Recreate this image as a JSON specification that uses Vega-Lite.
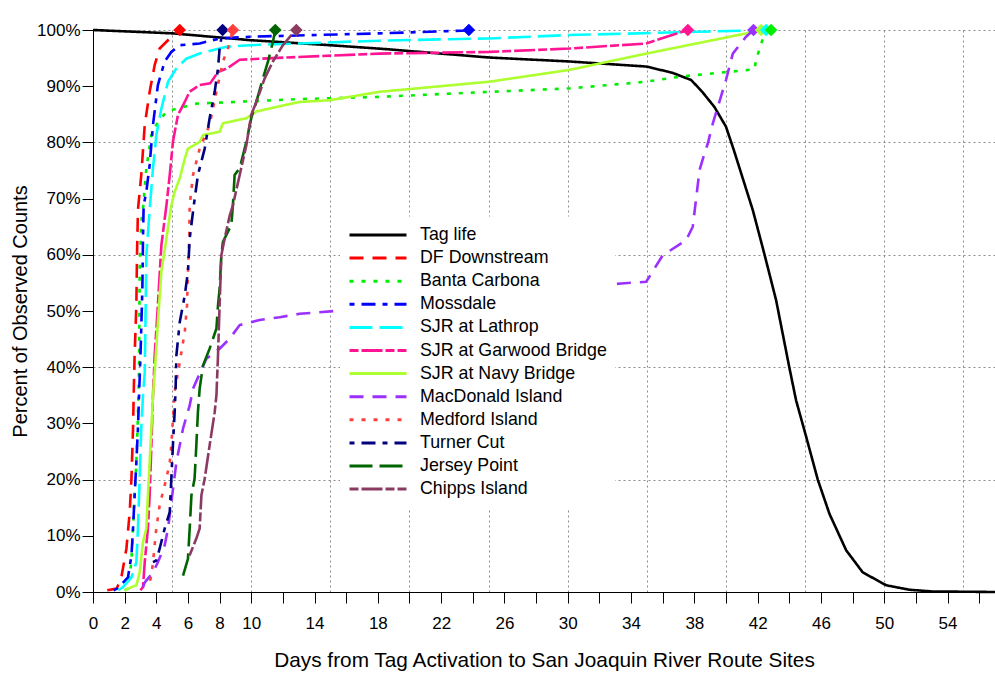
{
  "$schema": "https://vega.github.io/schema/vega-lite/v6.json",
  "width": 902,
  "height": 562,
  "autosize": {"type": "none"},
  "padding": {"left": 93, "top": 30, "right": 0, "bottom": 95},
  "background": "white",
  "datasets": {
    "lines": [
      {"site": "Tag life", "days": 0, "pct": 1.0},
      {"site": "Tag life", "days": 5.05, "pct": 0.994},
      {"site": "Tag life", "days": 9.9, "pct": 0.982},
      {"site": "Tag life", "days": 14.95, "pct": 0.973},
      {"site": "Tag life", "days": 18.5, "pct": 0.966},
      {"site": "Tag life", "days": 25.06, "pct": 0.951},
      {"site": "Tag life", "days": 30.1, "pct": 0.944},
      {"site": "Tag life", "days": 34.96, "pct": 0.935},
      {"site": "Tag life", "days": 36.6, "pct": 0.924},
      {"site": "Tag life", "days": 37.8, "pct": 0.911},
      {"site": "Tag life", "days": 38.5, "pct": 0.89},
      {"site": "Tag life", "days": 39.27, "pct": 0.863},
      {"site": "Tag life", "days": 40.0, "pct": 0.828},
      {"site": "Tag life", "days": 40.5, "pct": 0.786},
      {"site": "Tag life", "days": 41.7, "pct": 0.679},
      {"site": "Tag life", "days": 42.43, "pct": 0.601},
      {"site": "Tag life", "days": 43.17, "pct": 0.519},
      {"site": "Tag life", "days": 44.0, "pct": 0.40},
      {"site": "Tag life", "days": 44.43, "pct": 0.341},
      {"site": "Tag life", "days": 45.07, "pct": 0.276},
      {"site": "Tag life", "days": 45.8, "pct": 0.20},
      {"site": "Tag life", "days": 46.54, "pct": 0.139},
      {"site": "Tag life", "days": 47.6, "pct": 0.074},
      {"site": "Tag life", "days": 48.64, "pct": 0.035},
      {"site": "Tag life", "days": 50.12, "pct": 0.012},
      {"site": "Tag life", "days": 51.6, "pct": 0.004},
      {"site": "Tag life", "days": 53, "pct": 0.001},
      {"site": "Tag life", "days": 57, "pct": 0.0},

      {"site": "DF Downstream", "days": 0.9, "pct": 0.003},
      {"site": "DF Downstream", "days": 1.5, "pct": 0.006},
      {"site": "DF Downstream", "days": 1.79, "pct": 0.026},
      {"site": "DF Downstream", "days": 2.11, "pct": 0.077},
      {"site": "DF Downstream", "days": 2.32, "pct": 0.142},
      {"site": "DF Downstream", "days": 2.43, "pct": 0.202},
      {"site": "DF Downstream", "days": 2.53, "pct": 0.291},
      {"site": "DF Downstream", "days": 2.57, "pct": 0.35},
      {"site": "DF Downstream", "days": 2.63, "pct": 0.421},
      {"site": "DF Downstream", "days": 2.74, "pct": 0.51},
      {"site": "DF Downstream", "days": 2.78, "pct": 0.599},
      {"site": "DF Downstream", "days": 2.84, "pct": 0.68},
      {"site": "DF Downstream", "days": 3.05, "pct": 0.742},
      {"site": "DF Downstream", "days": 3.27, "pct": 0.831},
      {"site": "DF Downstream", "days": 3.58, "pct": 0.89},
      {"site": "DF Downstream", "days": 3.9, "pct": 0.938},
      {"site": "DF Downstream", "days": 4.21, "pct": 0.967},
      {"site": "DF Downstream", "days": 4.85, "pct": 0.985},
      {"site": "DF Downstream", "days": 5.16, "pct": 0.994},
      {"site": "DF Downstream", "days": 5.48, "pct": 1.0},

      {"site": "Banta Carbona", "days": 2.0, "pct": 0.003},
      {"site": "Banta Carbona", "days": 2.21, "pct": 0.006},
      {"site": "Banta Carbona", "days": 2.42, "pct": 0.053},
      {"site": "Banta Carbona", "days": 2.53, "pct": 0.113},
      {"site": "Banta Carbona", "days": 2.63, "pct": 0.172},
      {"site": "Banta Carbona", "days": 2.74, "pct": 0.231},
      {"site": "Banta Carbona", "days": 2.84, "pct": 0.314},
      {"site": "Banta Carbona", "days": 2.91, "pct": 0.40},
      {"site": "Banta Carbona", "days": 2.95, "pct": 0.57},
      {"site": "Banta Carbona", "days": 3.05, "pct": 0.659},
      {"site": "Banta Carbona", "days": 3.16, "pct": 0.682},
      {"site": "Banta Carbona", "days": 3.37, "pct": 0.754},
      {"site": "Banta Carbona", "days": 3.69, "pct": 0.813},
      {"site": "Banta Carbona", "days": 4.0, "pct": 0.831},
      {"site": "Banta Carbona", "days": 4.64, "pct": 0.855},
      {"site": "Banta Carbona", "days": 5.69, "pct": 0.863},
      {"site": "Banta Carbona", "days": 6.53, "pct": 0.869},
      {"site": "Banta Carbona", "days": 13.0, "pct": 0.877},
      {"site": "Banta Carbona", "days": 18.1, "pct": 0.881},
      {"site": "Banta Carbona", "days": 25.06, "pct": 0.89},
      {"site": "Banta Carbona", "days": 30.1, "pct": 0.896},
      {"site": "Banta Carbona", "days": 34.96, "pct": 0.908},
      {"site": "Banta Carbona", "days": 37.06, "pct": 0.917},
      {"site": "Banta Carbona", "days": 41.8, "pct": 0.93},
      {"site": "Banta Carbona", "days": 41.9, "pct": 0.947},
      {"site": "Banta Carbona", "days": 42.3, "pct": 0.982},
      {"site": "Banta Carbona", "days": 42.85, "pct": 1.0},

      {"site": "Mossdale", "days": 1.3, "pct": 0.003},
      {"site": "Mossdale", "days": 1.58, "pct": 0.007},
      {"site": "Mossdale", "days": 2.21, "pct": 0.026},
      {"site": "Mossdale", "days": 2.43, "pct": 0.065},
      {"site": "Mossdale", "days": 2.53, "pct": 0.113},
      {"site": "Mossdale", "days": 2.63, "pct": 0.172},
      {"site": "Mossdale", "days": 2.74, "pct": 0.231},
      {"site": "Mossdale", "days": 2.84, "pct": 0.291},
      {"site": "Mossdale", "days": 2.91, "pct": 0.35},
      {"site": "Mossdale", "days": 3.0, "pct": 0.421},
      {"site": "Mossdale", "days": 3.12, "pct": 0.54},
      {"site": "Mossdale", "days": 3.16, "pct": 0.629},
      {"site": "Mossdale", "days": 3.2, "pct": 0.688},
      {"site": "Mossdale", "days": 3.37, "pct": 0.712},
      {"site": "Mossdale", "days": 3.58, "pct": 0.76},
      {"site": "Mossdale", "days": 3.79, "pct": 0.831},
      {"site": "Mossdale", "days": 4.1, "pct": 0.902},
      {"site": "Mossdale", "days": 4.53, "pct": 0.944},
      {"site": "Mossdale", "days": 4.95, "pct": 0.961},
      {"site": "Mossdale", "days": 5.48, "pct": 0.973},
      {"site": "Mossdale", "days": 6.74, "pct": 0.976},
      {"site": "Mossdale", "days": 8.0, "pct": 0.985},
      {"site": "Mossdale", "days": 9.9, "pct": 0.988},
      {"site": "Mossdale", "days": 18.1, "pct": 0.994},
      {"site": "Mossdale", "days": 23.6, "pct": 0.999},
      {"site": "Mossdale", "days": 23.75, "pct": 1.0},

      {"site": "SJR at Lathrop", "days": 1.6, "pct": 0.003},
      {"site": "SJR at Lathrop", "days": 1.9, "pct": 0.009},
      {"site": "SJR at Lathrop", "days": 2.43, "pct": 0.026},
      {"site": "SJR at Lathrop", "days": 2.74, "pct": 0.053},
      {"site": "SJR at Lathrop", "days": 2.84, "pct": 0.113},
      {"site": "SJR at Lathrop", "days": 2.95, "pct": 0.202},
      {"site": "SJR at Lathrop", "days": 3.05, "pct": 0.291},
      {"site": "SJR at Lathrop", "days": 3.16, "pct": 0.35},
      {"site": "SJR at Lathrop", "days": 3.27, "pct": 0.391},
      {"site": "SJR at Lathrop", "days": 3.33, "pct": 0.51},
      {"site": "SJR at Lathrop", "days": 3.37, "pct": 0.599},
      {"site": "SJR at Lathrop", "days": 3.58, "pct": 0.68},
      {"site": "SJR at Lathrop", "days": 3.79, "pct": 0.754},
      {"site": "SJR at Lathrop", "days": 4.0, "pct": 0.813},
      {"site": "SJR at Lathrop", "days": 4.32, "pct": 0.86},
      {"site": "SJR at Lathrop", "days": 4.74, "pct": 0.908},
      {"site": "SJR at Lathrop", "days": 5.27, "pct": 0.932},
      {"site": "SJR at Lathrop", "days": 5.9, "pct": 0.949},
      {"site": "SJR at Lathrop", "days": 6.74, "pct": 0.958},
      {"site": "SJR at Lathrop", "days": 8.43, "pct": 0.97},
      {"site": "SJR at Lathrop", "days": 9.9, "pct": 0.973},
      {"site": "SJR at Lathrop", "days": 18.1, "pct": 0.981},
      {"site": "SJR at Lathrop", "days": 25.06, "pct": 0.985},
      {"site": "SJR at Lathrop", "days": 30.1, "pct": 0.991},
      {"site": "SJR at Lathrop", "days": 41.3, "pct": 0.999},
      {"site": "SJR at Lathrop", "days": 42.54, "pct": 1.0},

      {"site": "SJR at Garwood Bridge", "days": 3.0, "pct": 0.003},
      {"site": "SJR at Garwood Bridge", "days": 3.16, "pct": 0.009},
      {"site": "SJR at Garwood Bridge", "days": 3.27, "pct": 0.053},
      {"site": "SJR at Garwood Bridge", "days": 3.47, "pct": 0.113},
      {"site": "SJR at Garwood Bridge", "days": 3.58, "pct": 0.172},
      {"site": "SJR at Garwood Bridge", "days": 3.69, "pct": 0.261},
      {"site": "SJR at Garwood Bridge", "days": 3.79, "pct": 0.35},
      {"site": "SJR at Garwood Bridge", "days": 3.9, "pct": 0.421},
      {"site": "SJR at Garwood Bridge", "days": 4.1, "pct": 0.51},
      {"site": "SJR at Garwood Bridge", "days": 4.32, "pct": 0.617},
      {"site": "SJR at Garwood Bridge", "days": 4.64, "pct": 0.688},
      {"site": "SJR at Garwood Bridge", "days": 4.85, "pct": 0.742},
      {"site": "SJR at Garwood Bridge", "days": 5.05, "pct": 0.801},
      {"site": "SJR at Garwood Bridge", "days": 5.37, "pct": 0.849},
      {"site": "SJR at Garwood Bridge", "days": 5.8, "pct": 0.872},
      {"site": "SJR at Garwood Bridge", "days": 6.1, "pct": 0.89},
      {"site": "SJR at Garwood Bridge", "days": 6.74, "pct": 0.902},
      {"site": "SJR at Garwood Bridge", "days": 7.4, "pct": 0.905},
      {"site": "SJR at Garwood Bridge", "days": 7.9, "pct": 0.925},
      {"site": "SJR at Garwood Bridge", "days": 8.5, "pct": 0.932},
      {"site": "SJR at Garwood Bridge", "days": 9.27, "pct": 0.947},
      {"site": "SJR at Garwood Bridge", "days": 11.35, "pct": 0.95},
      {"site": "SJR at Garwood Bridge", "days": 18.1, "pct": 0.958},
      {"site": "SJR at Garwood Bridge", "days": 25.06, "pct": 0.961},
      {"site": "SJR at Garwood Bridge", "days": 30.1, "pct": 0.967},
      {"site": "SJR at Garwood Bridge", "days": 34.96, "pct": 0.976},
      {"site": "SJR at Garwood Bridge", "days": 36.6, "pct": 0.991},
      {"site": "SJR at Garwood Bridge", "days": 37.59, "pct": 1.0},

      {"site": "SJR at Navy Bridge", "days": 2.0, "pct": 0.002},
      {"site": "SJR at Navy Bridge", "days": 2.21, "pct": 0.006},
      {"site": "SJR at Navy Bridge", "days": 2.74, "pct": 0.012},
      {"site": "SJR at Navy Bridge", "days": 2.95, "pct": 0.035},
      {"site": "SJR at Navy Bridge", "days": 3.16, "pct": 0.089},
      {"site": "SJR at Navy Bridge", "days": 3.37, "pct": 0.113},
      {"site": "SJR at Navy Bridge", "days": 3.47, "pct": 0.172},
      {"site": "SJR at Navy Bridge", "days": 3.58, "pct": 0.231},
      {"site": "SJR at Navy Bridge", "days": 3.69, "pct": 0.291},
      {"site": "SJR at Navy Bridge", "days": 3.79, "pct": 0.35},
      {"site": "SJR at Navy Bridge", "days": 3.9, "pct": 0.391},
      {"site": "SJR at Navy Bridge", "days": 4.1, "pct": 0.48},
      {"site": "SJR at Navy Bridge", "days": 4.32, "pct": 0.57},
      {"site": "SJR at Navy Bridge", "days": 4.64, "pct": 0.629},
      {"site": "SJR at Navy Bridge", "days": 4.85, "pct": 0.67},
      {"site": "SJR at Navy Bridge", "days": 4.95, "pct": 0.688},
      {"site": "SJR at Navy Bridge", "days": 5.16, "pct": 0.712},
      {"site": "SJR at Navy Bridge", "days": 5.48, "pct": 0.736},
      {"site": "SJR at Navy Bridge", "days": 5.8, "pct": 0.771},
      {"site": "SJR at Navy Bridge", "days": 6.0, "pct": 0.789},
      {"site": "SJR at Navy Bridge", "days": 6.74, "pct": 0.801},
      {"site": "SJR at Navy Bridge", "days": 6.95, "pct": 0.813},
      {"site": "SJR at Navy Bridge", "days": 8.0, "pct": 0.819},
      {"site": "SJR at Navy Bridge", "days": 8.21, "pct": 0.834},
      {"site": "SJR at Navy Bridge", "days": 9.69, "pct": 0.843},
      {"site": "SJR at Navy Bridge", "days": 10.32, "pct": 0.855},
      {"site": "SJR at Navy Bridge", "days": 11.58, "pct": 0.863},
      {"site": "SJR at Navy Bridge", "days": 13.06, "pct": 0.872},
      {"site": "SJR at Navy Bridge", "days": 14.95, "pct": 0.875},
      {"site": "SJR at Navy Bridge", "days": 18.1, "pct": 0.89},
      {"site": "SJR at Navy Bridge", "days": 25.06, "pct": 0.908},
      {"site": "SJR at Navy Bridge", "days": 30.1, "pct": 0.929},
      {"site": "SJR at Navy Bridge", "days": 34.96, "pct": 0.958},
      {"site": "SJR at Navy Bridge", "days": 41.3, "pct": 0.994},
      {"site": "SJR at Navy Bridge", "days": 42.22, "pct": 1.0},

      {"site": "MacDonald Island", "days": 3.16, "pct": 0.009},
      {"site": "MacDonald Island", "days": 3.27, "pct": 0.017},
      {"site": "MacDonald Island", "days": 3.79, "pct": 0.035},
      {"site": "MacDonald Island", "days": 4.1, "pct": 0.053},
      {"site": "MacDonald Island", "days": 4.53, "pct": 0.083},
      {"site": "MacDonald Island", "days": 4.74, "pct": 0.113},
      {"site": "MacDonald Island", "days": 5.27, "pct": 0.231},
      {"site": "MacDonald Island", "days": 5.69, "pct": 0.291},
      {"site": "MacDonald Island", "days": 6.11, "pct": 0.332},
      {"site": "MacDonald Island", "days": 6.32, "pct": 0.362},
      {"site": "MacDonald Island", "days": 7.16, "pct": 0.415},
      {"site": "MacDonald Island", "days": 8.0, "pct": 0.433},
      {"site": "MacDonald Island", "days": 8.64, "pct": 0.451},
      {"site": "MacDonald Island", "days": 9.27, "pct": 0.475},
      {"site": "MacDonald Island", "days": 10.53, "pct": 0.484},
      {"site": "MacDonald Island", "days": 11.8, "pct": 0.489},
      {"site": "MacDonald Island", "days": 13.06, "pct": 0.495},
      {"site": "MacDonald Island", "days": 15.3, "pct": 0.50},
      {"site": "MacDonald Island", "days": 33.38, "pct": 0.549},
      {"site": "MacDonald Island", "days": 34.96, "pct": 0.552},
      {"site": "MacDonald Island", "days": 36.0, "pct": 0.599},
      {"site": "MacDonald Island", "days": 37.48, "pct": 0.626},
      {"site": "MacDonald Island", "days": 37.9, "pct": 0.65},
      {"site": "MacDonald Island", "days": 38.1, "pct": 0.697},
      {"site": "MacDonald Island", "days": 38.33, "pct": 0.751},
      {"site": "MacDonald Island", "days": 38.64, "pct": 0.78},
      {"site": "MacDonald Island", "days": 38.85, "pct": 0.798},
      {"site": "MacDonald Island", "days": 39.17, "pct": 0.834},
      {"site": "MacDonald Island", "days": 40.0, "pct": 0.911},
      {"site": "MacDonald Island", "days": 40.43, "pct": 0.958},
      {"site": "MacDonald Island", "days": 41.27, "pct": 0.988},
      {"site": "MacDonald Island", "days": 41.74, "pct": 1.0},

      {"site": "Medford Island", "days": 3.6, "pct": 0.02},
      {"site": "Medford Island", "days": 3.69, "pct": 0.029},
      {"site": "Medford Island", "days": 3.79, "pct": 0.053},
      {"site": "Medford Island", "days": 4.0, "pct": 0.113},
      {"site": "Medford Island", "days": 4.21, "pct": 0.154},
      {"site": "Medford Island", "days": 4.42, "pct": 0.178},
      {"site": "Medford Island", "days": 4.64, "pct": 0.202},
      {"site": "Medford Island", "days": 4.85, "pct": 0.231},
      {"site": "Medford Island", "days": 4.95, "pct": 0.261},
      {"site": "Medford Island", "days": 5.1, "pct": 0.33},
      {"site": "Medford Island", "days": 5.16, "pct": 0.356},
      {"site": "Medford Island", "days": 5.48, "pct": 0.409},
      {"site": "Medford Island", "days": 5.8, "pct": 0.463},
      {"site": "Medford Island", "days": 5.94, "pct": 0.51},
      {"site": "Medford Island", "days": 6.0, "pct": 0.57},
      {"site": "Medford Island", "days": 6.08, "pct": 0.629},
      {"site": "Medford Island", "days": 6.11, "pct": 0.688},
      {"site": "Medford Island", "days": 6.32, "pct": 0.742},
      {"site": "Medford Island", "days": 6.74, "pct": 0.789},
      {"site": "Medford Island", "days": 7.37, "pct": 0.831},
      {"site": "Medford Island", "days": 7.8, "pct": 0.89},
      {"site": "Medford Island", "days": 8.21, "pct": 0.944},
      {"site": "Medford Island", "days": 8.53, "pct": 0.967},
      {"site": "Medford Island", "days": 8.84, "pct": 1.0},

      {"site": "Turner Cut", "days": 3.79, "pct": 0.053},
      {"site": "Turner Cut", "days": 4.0, "pct": 0.056},
      {"site": "Turner Cut", "days": 4.21, "pct": 0.077},
      {"site": "Turner Cut", "days": 4.53, "pct": 0.113},
      {"site": "Turner Cut", "days": 4.85, "pct": 0.142},
      {"site": "Turner Cut", "days": 4.95, "pct": 0.202},
      {"site": "Turner Cut", "days": 5.05, "pct": 0.261},
      {"site": "Turner Cut", "days": 5.16, "pct": 0.32},
      {"site": "Turner Cut", "days": 5.22, "pct": 0.362},
      {"site": "Turner Cut", "days": 5.27, "pct": 0.421},
      {"site": "Turner Cut", "days": 5.48, "pct": 0.48},
      {"site": "Turner Cut", "days": 5.8, "pct": 0.528},
      {"site": "Turner Cut", "days": 6.0, "pct": 0.57},
      {"site": "Turner Cut", "days": 6.11, "pct": 0.629},
      {"site": "Turner Cut", "days": 6.37, "pct": 0.688},
      {"site": "Turner Cut", "days": 6.63, "pct": 0.742},
      {"site": "Turner Cut", "days": 7.06, "pct": 0.789},
      {"site": "Turner Cut", "days": 7.37, "pct": 0.843},
      {"site": "Turner Cut", "days": 7.69, "pct": 0.89},
      {"site": "Turner Cut", "days": 7.9, "pct": 0.932},
      {"site": "Turner Cut", "days": 8.0, "pct": 0.967},
      {"site": "Turner Cut", "days": 8.11, "pct": 0.985},
      {"site": "Turner Cut", "days": 8.19, "pct": 1.0},

      {"site": "Jersey Point", "days": 5.69, "pct": 0.029},
      {"site": "Jersey Point", "days": 6.0, "pct": 0.059},
      {"site": "Jersey Point", "days": 6.11, "pct": 0.113},
      {"site": "Jersey Point", "days": 6.22, "pct": 0.172},
      {"site": "Jersey Point", "days": 6.42, "pct": 0.202},
      {"site": "Jersey Point", "days": 6.53, "pct": 0.261},
      {"site": "Jersey Point", "days": 6.63, "pct": 0.32},
      {"site": "Jersey Point", "days": 6.74, "pct": 0.362},
      {"site": "Jersey Point", "days": 6.95, "pct": 0.403},
      {"site": "Jersey Point", "days": 7.37, "pct": 0.433},
      {"site": "Jersey Point", "days": 7.8, "pct": 0.469},
      {"site": "Jersey Point", "days": 7.9, "pct": 0.51},
      {"site": "Jersey Point", "days": 8.0, "pct": 0.54},
      {"site": "Jersey Point", "days": 8.11, "pct": 0.599},
      {"site": "Jersey Point", "days": 8.21, "pct": 0.623},
      {"site": "Jersey Point", "days": 8.53, "pct": 0.641},
      {"site": "Jersey Point", "days": 8.74, "pct": 0.653},
      {"site": "Jersey Point", "days": 8.84, "pct": 0.688},
      {"site": "Jersey Point", "days": 8.95, "pct": 0.742},
      {"site": "Jersey Point", "days": 9.27, "pct": 0.754},
      {"site": "Jersey Point", "days": 9.69, "pct": 0.801},
      {"site": "Jersey Point", "days": 10.0, "pct": 0.843},
      {"site": "Jersey Point", "days": 10.32, "pct": 0.872},
      {"site": "Jersey Point", "days": 10.74, "pct": 0.914},
      {"site": "Jersey Point", "days": 11.06, "pct": 0.944},
      {"site": "Jersey Point", "days": 11.37, "pct": 0.979},
      {"site": "Jersey Point", "days": 11.52, "pct": 1.0},

      {"site": "Chipps Island", "days": 6.1, "pct": 0.065},
      {"site": "Chipps Island", "days": 6.53, "pct": 0.095},
      {"site": "Chipps Island", "days": 6.74, "pct": 0.113},
      {"site": "Chipps Island", "days": 6.85, "pct": 0.172},
      {"site": "Chipps Island", "days": 7.06, "pct": 0.202},
      {"site": "Chipps Island", "days": 7.37, "pct": 0.261},
      {"site": "Chipps Island", "days": 7.69, "pct": 0.32},
      {"site": "Chipps Island", "days": 7.8, "pct": 0.35},
      {"site": "Chipps Island", "days": 7.9, "pct": 0.421},
      {"site": "Chipps Island", "days": 8.0, "pct": 0.51},
      {"site": "Chipps Island", "days": 8.11, "pct": 0.599},
      {"site": "Chipps Island", "days": 8.32, "pct": 0.629},
      {"site": "Chipps Island", "days": 8.64, "pct": 0.67},
      {"site": "Chipps Island", "days": 8.84, "pct": 0.688},
      {"site": "Chipps Island", "days": 9.27, "pct": 0.742},
      {"site": "Chipps Island", "days": 9.69, "pct": 0.795},
      {"site": "Chipps Island", "days": 10.0, "pct": 0.849},
      {"site": "Chipps Island", "days": 10.32, "pct": 0.872},
      {"site": "Chipps Island", "days": 10.85, "pct": 0.914},
      {"site": "Chipps Island", "days": 11.37, "pct": 0.944},
      {"site": "Chipps Island", "days": 12.0, "pct": 0.973},
      {"site": "Chipps Island", "days": 12.53, "pct": 0.991},
      {"site": "Chipps Island", "days": 12.85, "pct": 1.0}
    ],
    "ends": [
      {"site": "DF Downstream", "days": 5.48, "pct": 1.0},
      {"site": "Turner Cut", "days": 8.19, "pct": 1.0},
      {"site": "Medford Island", "days": 8.84, "pct": 1.0},
      {"site": "Jersey Point", "days": 11.52, "pct": 1.0},
      {"site": "Chipps Island", "days": 12.85, "pct": 1.0},
      {"site": "Mossdale", "days": 23.75, "pct": 1.0},
      {"site": "SJR at Garwood Bridge", "days": 37.59, "pct": 1.0},
      {"site": "MacDonald Island", "days": 41.74, "pct": 1.0},
      {"site": "SJR at Navy Bridge", "days": 42.22, "pct": 1.0},
      {"site": "SJR at Lathrop", "days": 42.54, "pct": 1.0},
      {"site": "Banta Carbona", "days": 42.85, "pct": 1.0}
    ]
  },
  "encoding": {
    "x": {
      "field": "days", "type": "quantitative",
      "scale": {"domain": [0, 57], "nice": false, "zero": false},
      "axis": {
        "title": "Days from Tag Activation to San Joaquin River Route Sites",
        "values": [0,2,4,5,6,8,10,12,14,15,16,18,20,22,24,25,26,28,30,32,34,35,36,38,40,42,44,45,46,48,50,52,54,55,56],
        "labelExpr": "(datum.value % 2 == 0 && (datum.value <= 10 || (datum.value - 2) % 4 == 0)) ? datum.label : ''",
        "labelOverlap": false,
        "labelBound": false,
        "labelFlush": false,
        "tickOpacity": {"condition": {"test": "datum.value % 2 == 0", "value": 1}, "value": 0},
        "gridOpacity": {"condition": {"test": "datum.value % 5 == 0 && datum.value > 0", "value": 1}, "value": 0},
        "labelPadding": 12,
        "titlePadding": 19,
        "titleFontSize": 20.8
      }
    },
    "y": {
      "field": "pct", "type": "quantitative",
      "scale": {"domain": [0, 1], "nice": false},
      "axis": {
        "title": "Percent of Observed Counts",
        "values": [0,0.1,0.2,0.3,0.4,0.5,0.6,0.7,0.8,0.9,1.0],
        "format": ".0%",
        "labelOverlap": false,
        "labelFlush": false,
        "gridOpacity": {"condition": {"test": "round(datum.value * 10) % 2 == 0 && datum.value > 0", "value": 1}, "value": 0},
        "labelPadding": 2,
        "titlePadding": 6
      }
    }
  },
  "layer": [
    {
      "data": {"name": "lines"},
      "mark": {"type": "line", "strokeWidth": 2.6},
      "encoding": {
        "color": {
          "field": "site", "type": "nominal",
          "scale": {
            "domain": ["Tag life", "DF Downstream", "Banta Carbona", "Mossdale", "SJR at Lathrop", "SJR at Garwood Bridge", "SJR at Navy Bridge", "MacDonald Island", "Medford Island", "Turner Cut", "Jersey Point", "Chipps Island"],
            "range": ["#000000", "#FF0000", "#00EE00", "#0000FF", "#00FFFF", "#FF1493", "#ADFF2F", "#9B30FF", "#FF4040", "#000080", "#006400", "#8B3A62"]
          },
          "legend": {
            "title": null, "orient": "none", "legendX": 247, "legendY": 186.5,
            "symbolType": "stroke", "symbolSize": 3249, "symbolStrokeWidth": 3,
            "clipHeight": 21, "rowPadding": 2.1, "labelFontSize": 17.8,
            "labelFont": "Liberation Sans", "labelColor": "#000000", "labelOffset": 12,
            "fillColor": "white", "padding": 8, "labelLimit": 400
          }
        },
        "strokeDash": {
          "field": "site", "type": "nominal",
          "scale": {
            "domain": ["Tag life", "DF Downstream", "Banta Carbona", "Mossdale", "SJR at Lathrop", "SJR at Garwood Bridge", "SJR at Navy Bridge", "MacDonald Island", "Medford Island", "Turner Cut", "Jersey Point", "Chipps Island"],
            "range": [[1,0], [14,9], [4,8], [5,7,14,7], [23,7], [9,3,21,3], [1,0], [14,9], [4,8], [5,7,14,7], [23,7], [9,3,21,3]]
          },
          "legend": {
            "title": null, "orient": "none", "legendX": 247, "legendY": 186.5,
            "symbolType": "stroke", "symbolSize": 3249, "symbolStrokeWidth": 3,
            "clipHeight": 21, "rowPadding": 2.1, "labelFontSize": 17.8,
            "labelFont": "Liberation Sans", "labelColor": "#000000", "labelOffset": 12,
            "fillColor": "white", "padding": 8, "labelLimit": 400
          }
        }
      }
    },
    {
      "data": {"name": "ends"},
      "mark": {"type": "point", "shape": "diamond", "filled": true, "size": 160, "opacity": 1, "strokeWidth": 0},
      "encoding": {
        "fill": {
          "field": "site", "type": "nominal",
          "scale": {
            "domain": ["DF Downstream", "Banta Carbona", "Mossdale", "SJR at Lathrop", "SJR at Garwood Bridge", "SJR at Navy Bridge", "MacDonald Island", "Medford Island", "Turner Cut", "Jersey Point", "Chipps Island"],
            "range": ["#FF0000", "#00EE00", "#0000FF", "#00FFFF", "#FF1493", "#ADFF2F", "#9B30FF", "#FF4040", "#000080", "#006400", "#8B3A62"]
          },
          "legend": null
        }
      }
    }
  ],
  "config": {
    "view": {"stroke": null},
    "font": "Liberation Sans",
    "axis": {
      "labelFont": "Liberation Sans", "titleFont": "Liberation Sans",
      "labelColor": "#000000", "titleColor": "#000000",
      "domainColor": "#000000", "tickColor": "#000000",
      "titleFontWeight": "normal", "labelFontSize": 17, "titleFontSize": 20,
      "tickSize": 11, "tickWidth": 1, "domainWidth": 1,
      "gridColor": "#8c8c8c", "gridDash": [2, 3], "gridWidth": 1
    }
  }
}
